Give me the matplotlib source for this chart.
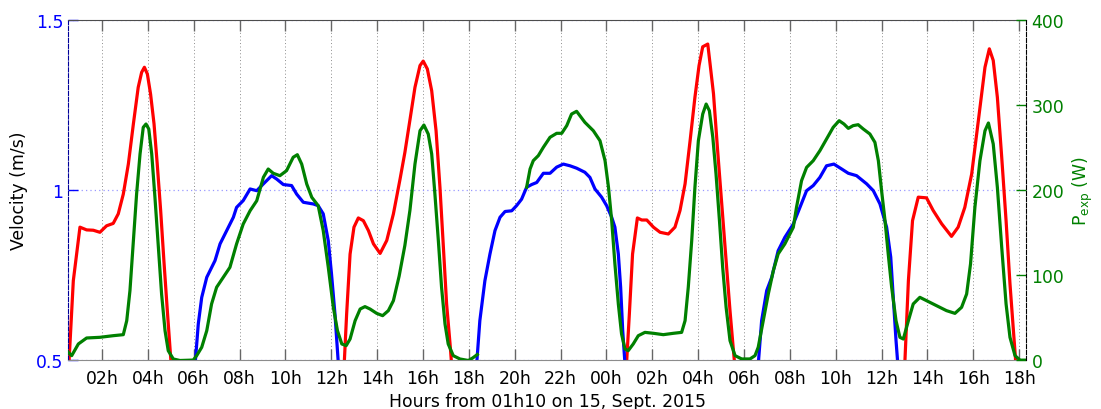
import numpy as np
import matplotlib.pyplot as plt

nan = np.nan

# time axis: hours since 00h on 15 Sept 2015 (26 = 02h next day)
red_t = [0.55, 0.75, 1.04, 1.33, 1.62, 1.91, 2.20, 2.49, 2.71, 2.93, 3.15, 3.37, 3.58, 3.73, 3.85,
         3.98, 4.12, 4.27, 4.41, 4.56, 4.70, 4.85, 5.00, 5.05, nan,
         12.55, 12.67, 12.82, 12.99, 13.18, 13.40, 13.62, 13.84, 14.13, 14.42, 14.71, 15.00, 15.21,
         15.43, 15.65, 15.87, 16.01, 16.19, 16.38, 16.57, 16.74, 16.89, 17.03, 17.18, 17.27, nan,
         24.86, 25.00, 25.14, 25.35, 25.54, 25.76, 26.05, 26.34, 26.70, 26.99, 27.21, 27.43, 27.65,
         27.86, 28.04, 28.20, 28.42, 28.52, 28.67, 28.84, 29.03, 29.22, 29.39, 29.54, 29.62, nan,
         37.00, 37.17, 37.35, 37.60, 37.96, 38.25, 38.62, 39.05, 39.34, 39.63, 39.93, 40.22, 40.51,
         40.70, 40.87, 41.05, 41.24, 41.43, 41.60, 41.75, 41.88]
red_v = [0.48, 0.734, 0.891, 0.883, 0.882, 0.876, 0.895, 0.902, 0.930, 0.988, 1.076, 1.194, 1.301, 1.345, 1.360,
         1.340, 1.281, 1.194, 1.076, 0.939, 0.793, 0.646, 0.505, 0.46, nan,
         0.47, 0.636, 0.812, 0.891, 0.918, 0.910, 0.881, 0.842, 0.814, 0.852, 0.930, 1.032, 1.110,
         1.205, 1.301, 1.365, 1.378, 1.355, 1.291, 1.174, 1.008, 0.832, 0.666, 0.549, 0.47, nan,
         0.47, 0.636, 0.812, 0.918, 0.912, 0.912, 0.891, 0.876, 0.871, 0.891, 0.940, 1.018, 1.145,
         1.272, 1.365, 1.420, 1.428, 1.370, 1.282, 1.125, 0.959, 0.793, 0.646, 0.529, 0.47, nan,
         0.47, 0.734, 0.910, 0.979, 0.977, 0.940, 0.901, 0.864, 0.891, 0.949, 1.047, 1.203, 1.360,
         1.414, 1.380, 1.272, 1.096, 0.910, 0.725, 0.588, 0.47]

blue_t = [6.04, 6.20, 6.35, 6.57, 6.93, 7.15, 7.44, 7.73, 7.87, 8.16, 8.46, 8.75, 9.04, 9.40, 9.62,
          9.91, 10.27, 10.49, 10.78, 11.22, 11.43, 11.65, 11.87, 12.01, 12.16, 12.33, nan,
          18.32, 18.48, 18.70, 18.92, 19.14, 19.36, 19.58, 19.87, 20.08, 20.30, 20.52, 20.74, 20.96,
          21.25, 21.54, 21.83, 22.12, 22.41, 22.70, 23.06, 23.28, 23.50, 23.79, 24.01, 24.23, 24.37,
          24.52, 24.62, 24.71, 24.83, nan,
          30.60, 30.77, 30.99, 31.21, 31.49, 31.78, 32.15, 32.44, 32.73, 33.02, 33.31, 33.60, 33.92,
          34.25, 34.55, 34.91, 35.35, 35.64, 35.93, 36.22, 36.40, 36.51, 36.63, 36.73]
blue_v = [0.47, 0.607, 0.685, 0.744, 0.793, 0.842, 0.881, 0.920, 0.949, 0.969, 1.003, 0.998, 1.018, 1.042, 1.032,
          1.016, 1.013, 0.988, 0.964, 0.959, 0.954, 0.930, 0.851, 0.754, 0.637, 0.47, nan,
          0.47, 0.617, 0.734, 0.812, 0.881, 0.920, 0.937, 0.939, 0.954, 0.973, 1.008, 1.016, 1.022,
          1.049, 1.049, 1.067, 1.076, 1.071, 1.064, 1.052, 1.037, 1.003, 0.979, 0.954, 0.920, 0.891,
          0.812, 0.715, 0.588, 0.47, nan,
          0.47, 0.617, 0.705, 0.744, 0.822, 0.861, 0.900, 0.949, 0.998, 1.013, 1.037, 1.071, 1.076,
          1.062, 1.049, 1.042, 1.018, 0.998, 0.959, 0.891, 0.803, 0.685, 0.559, 0.47]

green_t = [0.53, 0.68, 0.97, 1.33, 1.91, 2.49, 2.93, 3.08, 3.22, 3.37, 3.51, 3.66, 3.80, 3.92, 4.04,
           4.17, 4.31, 4.46, 4.60, 4.75, 4.89, 5.11, 5.40, 5.98, 6.13, 6.35, 6.57, 6.78, 7.00, 7.29,
           7.58, 7.87, 8.16, 8.46, 8.75, 9.04, 9.25, 9.47, 9.76, 10.05, 10.34, 10.52, 10.71, 10.93,
           11.15, 11.43, 11.65, 11.87, 12.09, 12.27, 12.46, 12.65, 12.82, 13.04, 13.26, 13.47, 13.69,
           13.98, 14.24, 14.49, 14.71, 14.96, 15.21, 15.43, 15.65, 15.87, 16.04, 16.23, 16.38, 16.52,
           16.67, 16.81, 16.96, 17.10, 17.32, 17.61, 17.98, 18.17, 18.37, nan,
           20.52, 20.67, 20.81, 21.03, 21.25, 21.54, 21.83, 22.05, 22.27, 22.48, 22.70, 23.06, 23.43,
           23.72, 23.94, 24.09, 24.23, 24.37, 24.52, 24.66, 24.81, 24.95, 25.17, 25.39, 25.68, 26.05,
           26.48, 26.92, 27.28, 27.43, 27.57, 27.72, 27.86, 28.01, 28.20, 28.35, 28.49, 28.64, 28.78,
           28.93, 29.07, 29.22, 29.39, 29.61, 29.90, 30.26, 30.48, 30.62, 30.84, 31.06, 31.28, 31.49,
           31.78, 32.00, 32.15, 32.29, 32.51, 32.73, 33.02, 33.31, 33.60, 33.89, 34.15, 34.36, 34.55,
           34.76, 34.98, 35.20, 35.49, 35.71, 35.86, 36.00, 36.15, 36.29, 36.44, 36.63, 36.80, 36.95,
           37.17, 37.38, 37.67, 37.96, 38.40, 38.83, 39.20, 39.49, 39.71, 39.88, 40.07, 40.29, 40.51,
           40.66, 40.87, 41.05, 41.24, 41.43, 41.60, 41.82, 42.04, 42.33]
green_p = [9.6, 5.7, 19.4, 26.4, 27.2, 29.1, 30.3, 46.7, 81.9, 140.6, 195.3, 242.2, 273.5, 277.4, 271.6,
           242.2, 191.4, 132.8, 78.0, 35.0, 11.5, 1.8, 0.0, 0.5, 5.7, 15.5, 35.0, 66.3, 85.9, 97.6,
           109.3, 136.7, 160.1, 175.7, 187.4, 214.9, 224.6, 219.6, 216.8, 222.7, 238.4, 241.4, 230.4, 207.0,
           191.4, 181.6, 152.3, 109.3, 62.4, 35.0, 19.4, 17.4, 25.2, 46.7, 60.4, 63.2, 60.4,
           55.3, 52.6, 58.5, 70.2, 99.0, 135.0, 176.0, 230.4, 269.5, 276.2, 265.6, 242.2, 195.3,
           140.6, 85.9, 42.9, 19.4, 5.7, 1.8, 0.0, 3.0, 7.0, nan,
           203.2, 224.6, 234.4, 240.3, 250.1, 261.8, 266.5, 266.5, 275.5, 289.1, 292.3, 279.4, 269.5,
           257.8, 234.4, 203.2, 164.1, 113.3, 66.3, 31.1, 13.5, 11.5, 19.4, 29.1, 33.0, 31.9,
           30.3, 31.9, 33.0, 46.7, 85.9, 140.6, 203.2, 257.8, 289.1, 300.8, 293.0, 261.8, 218.8,
           164.1, 109.3, 62.4, 23.3, 5.7, 1.8, 1.8, 5.7, 15.5, 46.7, 78.0, 105.4, 125.0,
           136.7, 148.4, 156.2, 179.6, 210.9, 226.5, 234.4, 246.1, 259.8, 273.5, 281.3, 277.4, 272.3,
           275.5, 276.6, 271.6, 265.7, 255.9, 234.4, 199.3, 164.1, 125.0, 85.9, 46.7, 27.2, 25.2,
           46.7, 66.3, 74.1, 70.2, 64.4, 58.5, 55.3, 62.4, 78.0, 113.3, 179.6, 234.4, 269.5,
           278.6, 254.0, 203.2, 132.8, 66.3, 27.2, 5.7, 0.4, 0.4]

tick_hours = np.arange(2, 43, 2)
tick_labels = [f"{h % 24:02d}h" for h in tick_hours]

BLUE = (0, 0, 1)
GREEN = (0, 0.5, 0)
FS = 12.4

fig = plt.figure(figsize=(11.01, 4.10), dpi=100)
ax = fig.add_axes([0.0618, 0.1183, 0.8701, 0.8317])
ax2 = ax.twinx()

ax.plot(red_t, red_v, color='red', lw=2.3, solid_joinstyle='round')
ax.plot(blue_t, blue_v, color=BLUE, lw=2.3, solid_joinstyle='round')
ax2.plot(green_t, green_p, color=GREEN, lw=2.3, solid_joinstyle='round')

ax.set_xlim(0.52, 42.30)
ax.set_ylim(0.5, 1.5)
ax2.set_ylim(0, 400)

ax.set_xticks(tick_hours)
ax.set_xticklabels(tick_labels, fontsize=FS)
ax.set_yticks([0.5, 1, 1.5])
ax.set_yticklabels(['0.5', '1', '1.5'], fontsize=FS, color=BLUE)
ax2.set_yticks([0, 100, 200, 300, 400])
ax2.set_yticklabels(['0', '100', '200', '300', '400'], fontsize=FS, color=GREEN)

ax.tick_params(axis='x', direction='in', top=True, length=8, width=1, color='0.4', pad=6)
ax.tick_params(axis='y', direction='in', length=7, width=1, color=BLUE, pad=3.4)
ax2.tick_params(axis='y', direction='in', length=7, width=1, color=GREEN, pad=4)

ax.xaxis.grid(True, color='0.55', ls=(0, (1, 2.5)), lw=0.7)
ax.yaxis.grid(True, color=(0.6, 0.6, 1.0), ls=(0, (1, 2.5)), lw=0.9)
ax.set_axisbelow(True)

ax.spines['left'].set_color((0, 0, 0.6))
ax.spines['left'].set_linestyle('--')
ax.spines['right'].set_visible(False)
ax.spines['top'].set_color('0.3')
ax.spines['bottom'].set_color('0.55')
for s in ['left', 'top', 'bottom']:
    ax2.spines[s].set_visible(False)
ax2.spines['right'].set_color('black')
ax2.spines['right'].set_linestyle('--')

ax.set_ylabel('Velocity (m/s)', fontsize=FS, labelpad=5.8)
ax2.set_ylabel(r'P$_{\mathregular{exp}}$ (W)', fontsize=FS, color=GREEN, labelpad=5)
ax.set_xlabel('Hours from 01h10 on 15, Sept. 2015', fontsize=FS, labelpad=3.5)

fig.savefig('out.png', dpi=100)
